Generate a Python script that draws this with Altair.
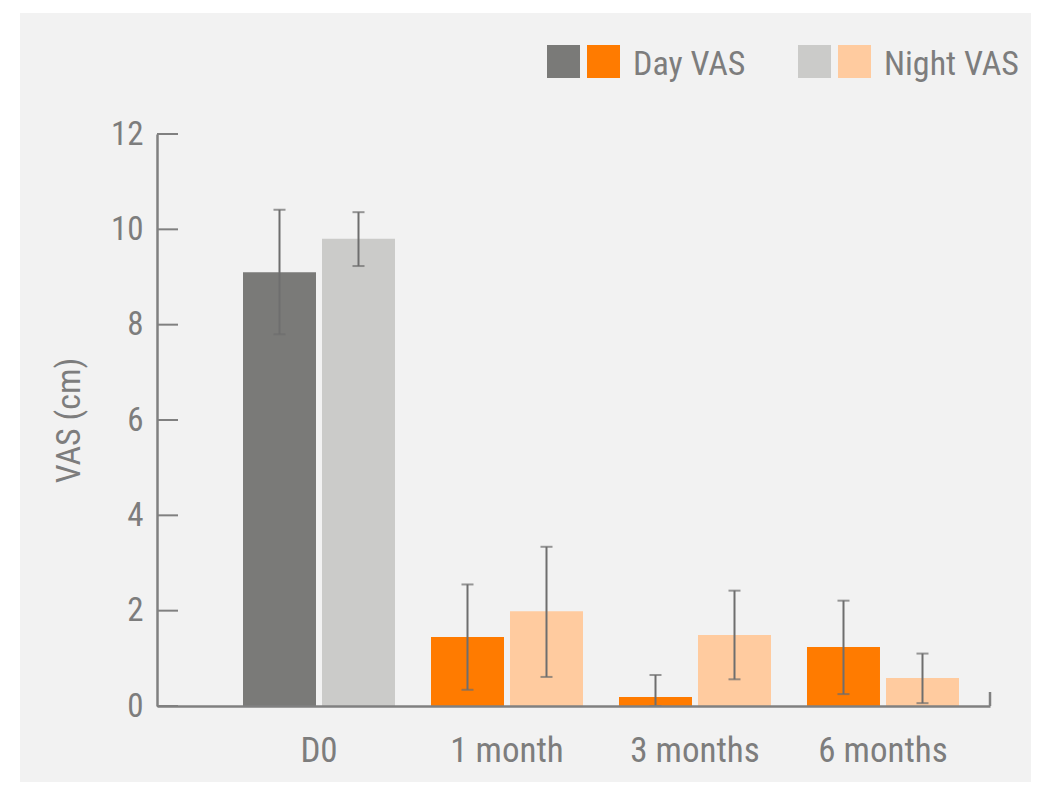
import altair as alt
import pandas as pd

# ---- data ----
timepoints = ["D0", "1 month", "3 months", "6 months"]
day_mean = [9.10, 1.45, 0.19, 1.24]
day_low = [7.80, 0.34, 0.00, 0.25]
day_high = [10.41, 2.55, 0.65, 2.21]
night_mean = [9.80, 1.99, 1.49, 0.59]
night_low = [9.23, 0.61, 0.56, 0.06]
night_high = [10.36, 3.34, 2.42, 1.10]

series_names = ["Day VAS", "Night VAS"]
color_keys = ["Day D0", "Day VAS", "Night D0", "Night VAS"]
color_values = ["#7a7a78", "#ff7b00", "#cbcbc9", "#ffcb9f"]
legend_labels = ["Day VAS", "Night VAS"]
y_ticks = [0, 2, 4, 6, 8, 10, 12]

FONT = "Liberation Sans Narrow, Roboto Condensed, Liberation Sans, sans-serif"
TEXT = "#7d7d7d"
AXIS = "#808080"
ERR = "#6e6e6e"

rows = []
for i, t in enumerate(timepoints):
    for s, m, lo, hi in (
        ("Day VAS", day_mean[i], day_low[i], day_high[i]),
        ("Night VAS", night_mean[i], night_low[i], night_high[i]),
    ):
        key = s if t != "D0" else s.split()[0] + " D0"
        rows.append(dict(time=t, series=s, value=m, low=lo, high=hi, key=key))
df = pd.DataFrame(rows)
tick_df = pd.DataFrame({"value": y_ticks})
one = pd.DataFrame({"a": [0]})

W, H = 833, 572

x_axis = alt.Axis(
    title=None, labelAngle=0, ticks=False, labelPadding=27,
    labelFontSize=35, labelColor=TEXT, labelFont=FONT,
    domainColor=AXIS, domainWidth=2.5, zindex=1,
)
x_scale = alt.Scale(paddingInner=0.1915, paddingOuter=0.3112, align=0.735)
x_enc = alt.X("time:N", sort=timepoints, scale=x_scale, axis=x_axis)
xo_enc = alt.XOffset(
    "series:N", sort=series_names,
    scale=alt.Scale(paddingInner=0.076, paddingOuter=0),
)
y_scale = alt.Scale(domain=[0, 12], nice=False, zero=True)
y_axis = alt.Axis(
    values=y_ticks, title="VAS (cm)", grid=False, tickSize=0,
    labelPadding=14, labelFontSize=33, labelColor=TEXT, labelFont=FONT,
    domainColor=AXIS, domainWidth=2.5, zindex=1,
    titleFontSize=34, titleFont=FONT, titleColor=TEXT,
    titleFontWeight="normal", titleX=-88, titleY=286,
    titleBaseline="middle",
)

panel = alt.Chart(one).mark_rect(color="#f2f2f2").encode(
    x=alt.value(-137), x2=alt.value(874), y=alt.value(-121), y2=alt.value(648)
)

bars = alt.Chart(df).mark_bar().encode(
    x=x_enc,
    xOffset=xo_enc,
    y=alt.Y("value:Q", scale=y_scale, axis=y_axis),
    color=alt.Color("key:N", scale=alt.Scale(domain=color_keys, range=color_values), legend=None),
)

err = alt.Chart(df).mark_rule(color=ERR, strokeWidth=2).encode(
    x=x_enc, xOffset=xo_enc,
    y=alt.Y("low:Q", scale=y_scale, axis=y_axis), y2="high:Q",
)
cap_hi = alt.Chart(df).mark_tick(color=ERR, orient="horizontal", size=12, thickness=2).encode(
    x=x_enc, xOffset=xo_enc,
    y=alt.Y("high:Q", scale=y_scale, axis=y_axis),
)
cap_lo = alt.Chart(df).mark_tick(color=ERR, orient="horizontal", size=12, thickness=2).encode(
    x=x_enc, xOffset=xo_enc,
    y=alt.Y("low:Q", scale=y_scale, axis=y_axis),
)

yticks = alt.Chart(tick_df).mark_rule(color=AXIS, strokeWidth=2).encode(
    y=alt.Y("value:Q", scale=y_scale, axis=y_axis),
    x=alt.value(0), x2=alt.value(21),
)
end_tick = alt.Chart(one).mark_rule(color=AXIS, strokeWidth=2.5).encode(
    x=alt.value(W), y=alt.value(H - 14), y2=alt.value(H)
)

legend_layers = []
swatch_x = [406.5, 446.5, 657.5, 697.5]
for k, c, sx in zip(color_keys, color_values, swatch_x):
    legend_layers.append(
        alt.Chart(one).mark_square(color=c, size=1089, opacity=1).encode(
            x=alt.value(sx), y=alt.value(-72.5)
        )
    )
for lab, tx in zip(legend_labels, [476, 727]):
    legend_layers.append(
        alt.Chart(one).mark_text(
            text=lab, align="left", baseline="alphabetic", font=FONT,
            fontSize=34, color=TEXT,
        ).encode(x=alt.value(tx), y=alt.value(-59))
    )

chart = alt.layer(
    panel, bars, err, cap_hi, cap_lo, yticks, end_tick, *legend_layers
).properties(
    width=W, height=H,
    padding={"left": 12, "top": 5, "right": 0, "bottom": 0},
    background="white",
).configure_view(stroke=None)

chart.save("out.html", embed_options={"renderer": "svg", "actions": False})
